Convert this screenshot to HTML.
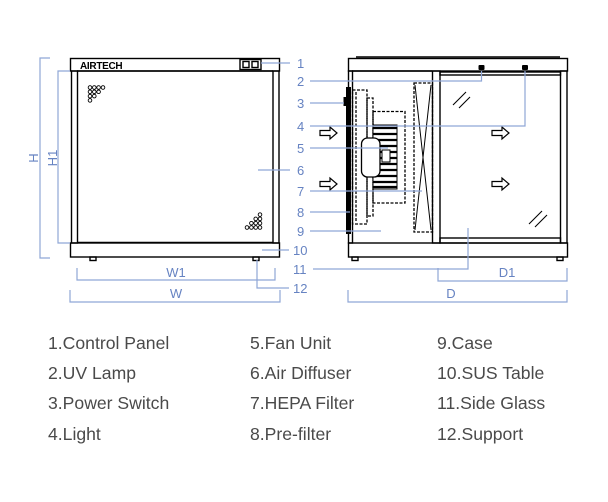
<!DOCTYPE html>
<html><head><meta charset="utf-8"><style>
html,body{margin:0;padding:0;background:#fff}
svg{display:block}
.n{font-family:"Liberation Sans",sans-serif;font-size:13px;fill:#6683c2}
.lg{font-family:"Liberation Sans",sans-serif;font-size:17.6px;fill:#4a4a4a}
.b{stroke:#8fa6d6;stroke-width:1.2;fill:none}
.k{stroke:#000;fill:none;stroke-width:1.4}
.d{stroke:#000;fill:none;stroke-width:1.3;stroke-dasharray:3 1.5}
</style></head><body>
<svg width="608" height="502" viewBox="0 0 608 502" xmlns="http://www.w3.org/2000/svg">
<rect class="k" x="70.5" y="58.5" width="209" height="12.5"/>
<text x="80" y="69" font-family="Liberation Sans,sans-serif" font-weight="bold" font-size="10" letter-spacing="-0.3">AIRTECH</text>
<rect class="k" x="240" y="59.5" width="21" height="10" stroke-width="1.6"/>
<rect class="k" x="243" y="61.5" width="6" height="6" stroke-width="1.2"/>
<rect class="k" x="252" y="61.5" width="6" height="6" stroke-width="1.2"/>
<rect class="k" x="71.5" y="71" width="6" height="172"/>
<rect class="k" x="273" y="71" width="6" height="172"/>
<line class="k" x1="77" y1="71" x2="273" y2="71"/>
<line class="k" x1="77" y1="242.5" x2="273" y2="242.5"/>
<rect class="k" x="70.5" y="243" width="209" height="14"/>
<rect class="k" x="90" y="257" width="6" height="3.5" stroke-width="1"/>
<rect class="k" x="253" y="257" width="6" height="3.5" stroke-width="1"/>
<g fill="none" stroke="#000" stroke-width="0.9">
<circle cx="90" cy="87.5" r="1.8"/><circle cx="94.3" cy="87.5" r="1.8"/><circle cx="98.6" cy="87.5" r="1.8"/><circle cx="103" cy="87.5" r="1.8"/>
<circle cx="90" cy="91.8" r="1.8"/><circle cx="94.3" cy="91.8" r="1.8"/><circle cx="98.6" cy="91.8" r="1.8"/>
<circle cx="90" cy="96.1" r="1.8"/><circle cx="94.3" cy="96.1" r="1.8"/>
<circle cx="90" cy="100.4" r="1.8"/>
<circle cx="260" cy="227.5" r="1.8"/><circle cx="255.7" cy="227.5" r="1.8"/><circle cx="251.4" cy="227.5" r="1.8"/><circle cx="247" cy="227.5" r="1.8"/>
<circle cx="260" cy="223.2" r="1.8"/><circle cx="255.7" cy="223.2" r="1.8"/><circle cx="251.4" cy="223.2" r="1.8"/>
<circle cx="260" cy="218.9" r="1.8"/><circle cx="255.7" cy="218.9" r="1.8"/>
<circle cx="260" cy="214.6" r="1.8"/>
</g>
<path class="b" d="M50 58 H40 V258 H50"/>
<path class="b" d="M70 71 H58 V243 H70"/>
<text class="n" transform="translate(38,158) rotate(-90)" text-anchor="middle">H</text>
<text class="n" transform="translate(57,158) rotate(-90)" text-anchor="middle">H1</text>
<path class="b" d="M77 268 V280 H275 V268"/>
<text class="n" x="176" y="277" text-anchor="middle">W1</text>
<path class="b" d="M70 290 V302 H280 V290"/>
<text class="n" x="176" y="298" text-anchor="middle">W</text>
<line class="b" x1="261" y1="63" x2="290" y2="63"/>
<line class="b" x1="258" y1="170" x2="290" y2="170"/>
<line class="b" x1="262" y1="250" x2="289" y2="250"/>
<path class="b" d="M257 260 V288 H289"/>
<g class="n">
<text x="297" y="68">1</text><text x="297" y="86">2</text><text x="297" y="108">3</text><text x="297" y="131">4</text>
<text x="297" y="153">5</text><text x="297" y="175">6</text><text x="297" y="196">7</text><text x="297" y="217">8</text>
<text x="297" y="236">9</text><text x="293" y="255">10</text><text x="293" y="274">11</text><text x="293" y="293">12</text>
</g>
<rect class="k" x="348.5" y="58.5" width="219" height="12.5"/>
<line x1="356" y1="57" x2="560" y2="57" stroke="#000" stroke-width="1.5"/>
<rect class="k" x="348.5" y="71" width="4" height="172"/>
<rect class="k" x="560.5" y="71" width="6.5" height="172"/>
<rect class="k" x="432.5" y="71" width="7.5" height="172"/>
<rect class="k" x="440" y="72" width="120.5" height="3"/>
<rect class="k" x="440" y="238" width="120.5" height="5"/>
<line class="k" x1="352" y1="71" x2="432" y2="71"/>
<rect class="k" x="348.5" y="243" width="219" height="14"/>
<rect class="k" x="352" y="257" width="6" height="3.5" stroke-width="1"/>
<rect class="k" x="557" y="257" width="6" height="3.5" stroke-width="1"/>
<rect x="478.5" y="65" width="6" height="5" rx="1" fill="#000"/>
<rect x="522" y="65" width="6" height="5" rx="1" fill="#000"/>
<g stroke="#000" stroke-width="1.1">
<line x1="453" y1="105" x2="466" y2="92"/><line x1="459" y1="108" x2="470" y2="97"/>
<line x1="529" y1="224" x2="542" y2="211"/><line x1="535" y1="227" x2="547" y2="215"/>
</g>
<rect x="346" y="87" width="5" height="147" fill="#000"/>
<rect x="343.5" y="97" width="3.5" height="9" fill="#000"/>
<rect class="d" x="352.5" y="90" width="14.5" height="134"/>
<line class="d" x1="356" y1="92" x2="356" y2="222"/>
<rect class="d" x="367" y="98" width="6" height="118"/>
<rect class="d" x="373" y="111.5" width="32" height="91.5"/>
<rect x="373" y="125" width="24" height="64" fill="#fff" stroke="#000"/>
<g stroke="#000" stroke-width="2.2">
<line x1="373" y1="128" x2="397" y2="128"/><line x1="373" y1="134" x2="397" y2="134"/><line x1="373" y1="140" x2="397" y2="140"/>
<line x1="373" y1="146" x2="397" y2="146"/><line x1="373" y1="152" x2="397" y2="152"/><line x1="373" y1="158" x2="397" y2="158"/>
<line x1="373" y1="164" x2="397" y2="164"/><line x1="373" y1="170" x2="397" y2="170"/><line x1="373" y1="176" x2="397" y2="176"/>
<line x1="373" y1="182" x2="397" y2="182"/><line x1="373" y1="187" x2="397" y2="187"/>
</g>
<rect x="361.5" y="138" width="18.5" height="39" rx="6" fill="#fff" stroke="#000" stroke-width="1.3"/>
<rect x="382" y="150" width="8" height="12" fill="#fff" stroke="#000"/>
<rect class="d" x="414" y="83" width="18.5" height="149"/>
<path d="M415 85 L431 230 M431 85 L415 230" stroke="#000" stroke-width="1" fill="none"/>
<g fill="#fff" stroke="#000" stroke-width="1.2">
<path d="M320 130.5 H330 V127 L337 133 L330 139 V135.5 H320 Z"/>
<path d="M320 181.5 H330 V178 L337 184 L330 190 V186.5 H320 Z"/>
<path d="M492 130.5 H502 V127 L509 133 L502 139 V135.5 H492 Z"/>
<path d="M492 181.5 H502 V178 L509 184 L502 190 V186.5 H492 Z"/>
</g>
<path class="b" d="M310 81 H481.5 V71"/>
<line class="b" x1="310" y1="103" x2="344" y2="103"/>
<path class="b" d="M310 126 H525 V71"/>
<line class="b" x1="310" y1="148" x2="388" y2="148"/>
<line class="b" x1="310" y1="191" x2="422" y2="191"/>
<line class="b" x1="310" y1="212" x2="350" y2="212"/>
<line class="b" x1="310" y1="231" x2="381" y2="231"/>
<path class="b" d="M313 269 H468 V228"/>
<path class="b" d="M438 268 V281 H567 V268"/>
<text class="n" x="507" y="277" text-anchor="middle">D1</text>
<path class="b" d="M348 290 V302 H567 V290"/>
<text class="n" x="451" y="298" text-anchor="middle">D</text>
<g class="lg">
<text x="48" y="349">1.Control Panel</text><text x="48" y="379">2.UV Lamp</text><text x="48" y="409">3.Power Switch</text><text x="48" y="440">4.Light</text>
<text x="250" y="349">5.Fan Unit</text><text x="250" y="379">6.Air Diffuser</text><text x="250" y="409">7.HEPA Filter</text><text x="250" y="440">8.Pre-filter</text>
<text x="437" y="349">9.Case</text><text x="437" y="379">10.SUS Table</text><text x="437" y="409">11.Side Glass</text><text x="437" y="440">12.Support</text>
</g>
</svg>
</body></html>
